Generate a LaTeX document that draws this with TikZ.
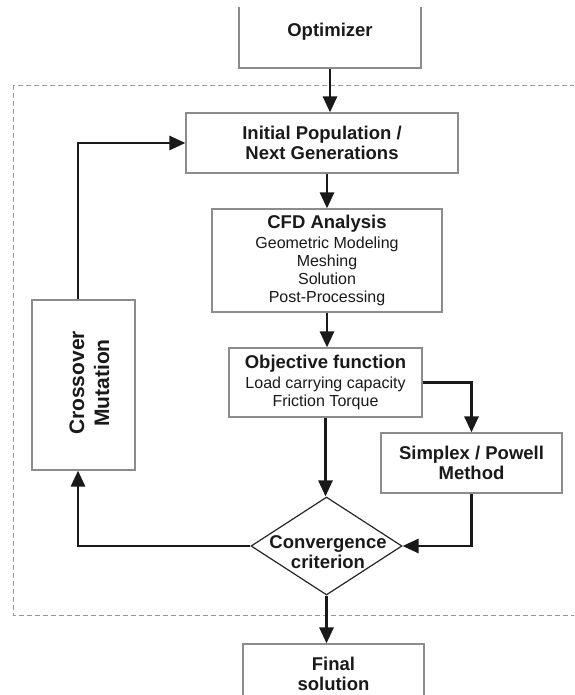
\documentclass[tikz,border=0pt]{standalone}
\usepackage{fontspec}
\setmainfont{Liberation Sans}
\usetikzlibrary{arrows.meta,shapes.geometric}
\definecolor{boxgray}{HTML}{8C8C8C}
\definecolor{txt}{HTML}{1A1A1A}
\definecolor{dashgray}{HTML}{9A9A9A}
\begin{document}
\begin{tikzpicture}[x=1pt,y=-1pt,
  box/.style={draw=boxgray,line width=1.2pt,fill=white,inner sep=0pt,align=center,text=txt},
  bt/.style={font=\fontsize{18.5}{20.5}\selectfont\bfseries},
  rt/.style={font=\fontsize{16}{17.8}\selectfont},
  arr/.style={line width=2.8pt,draw=black!90,-{Triangle[length=16pt,width=14pt]}},
  ]
\useasboundingbox (0,0) rectangle (574,695);
\clip (0,8) rectangle (574,695);
\draw[dashgray,line width=0.9pt,dash pattern=on 5pt off 3pt] (13,85) rectangle (600,615);
\node[box,bt,minimum width=182pt,minimum height=72pt] (opt) at (330,32) {Optimizer};
\node[box,bt,minimum width=272pt,minimum height=60pt] (init) at (322,143) {Initial Population /\\Next Generations};
\node[box,rt,minimum width=230pt,minimum height=103pt] (cfd) at (327,260.5)
  {{\fontsize{18.5}{20}\selectfont\bfseries CFD Analysis}\\[2pt]Geometric Modeling\\Meshing\\Solution\\Post-Processing};
\node[box,rt,minimum width=193pt,minimum height=69pt] (obj) at (325.5,382.5)
  {{\fontsize{18.5}{20}\selectfont\bfseries Objective function}\\[2pt]Load carrying capacity\\Friction Torque};
\node[box,bt,minimum width=181pt,minimum height=60pt] (simp) at (471.5,463) {Simplex / Powell\\Method};
\node[box,minimum width=103pt,minimum height=170pt] (cross) at (83.5,385) {};
\node[rotate=90,font=\fontsize{21}{25}\selectfont\bfseries,text=txt,align=center] (crosstext) at (89.5,383) {Crossover\\Mutation};
\node[diamond,draw=black!85,line width=1.2pt,fill=white,minimum width=151pt,minimum height=98pt,inner sep=0pt] (conv) at (326.5,546) {};
\node[bt,text=txt,align=center] (convtext) at (328,552) {Convergence\\criterion};
\node[box,bt,minimum width=181pt,minimum height=60pt] (fin) at (333.5,674) {Final\\solution};
% connectors
\draw[arr] (opt.south) -- (opt.south |- init.north);
\draw[arr] (cfd.north |- init.south) -- (cfd.north);
\draw[arr] (cfd.south) -- (cfd.south |- obj.north);
\draw[arr] (obj.south) -- (obj.south |- conv.north);
\draw[arr] (obj.east) -| (simp.north);
\draw[arr] (simp.south) |- (conv.east);
\draw[arr] (conv.west) -| ([xshift=-5.5pt]cross.south);
\draw[arr] ([xshift=-5.5pt]cross.north) |- (init.west);
\draw[arr] (conv.south) -- (conv.south |- fin.north);
\end{tikzpicture}
\end{document}
